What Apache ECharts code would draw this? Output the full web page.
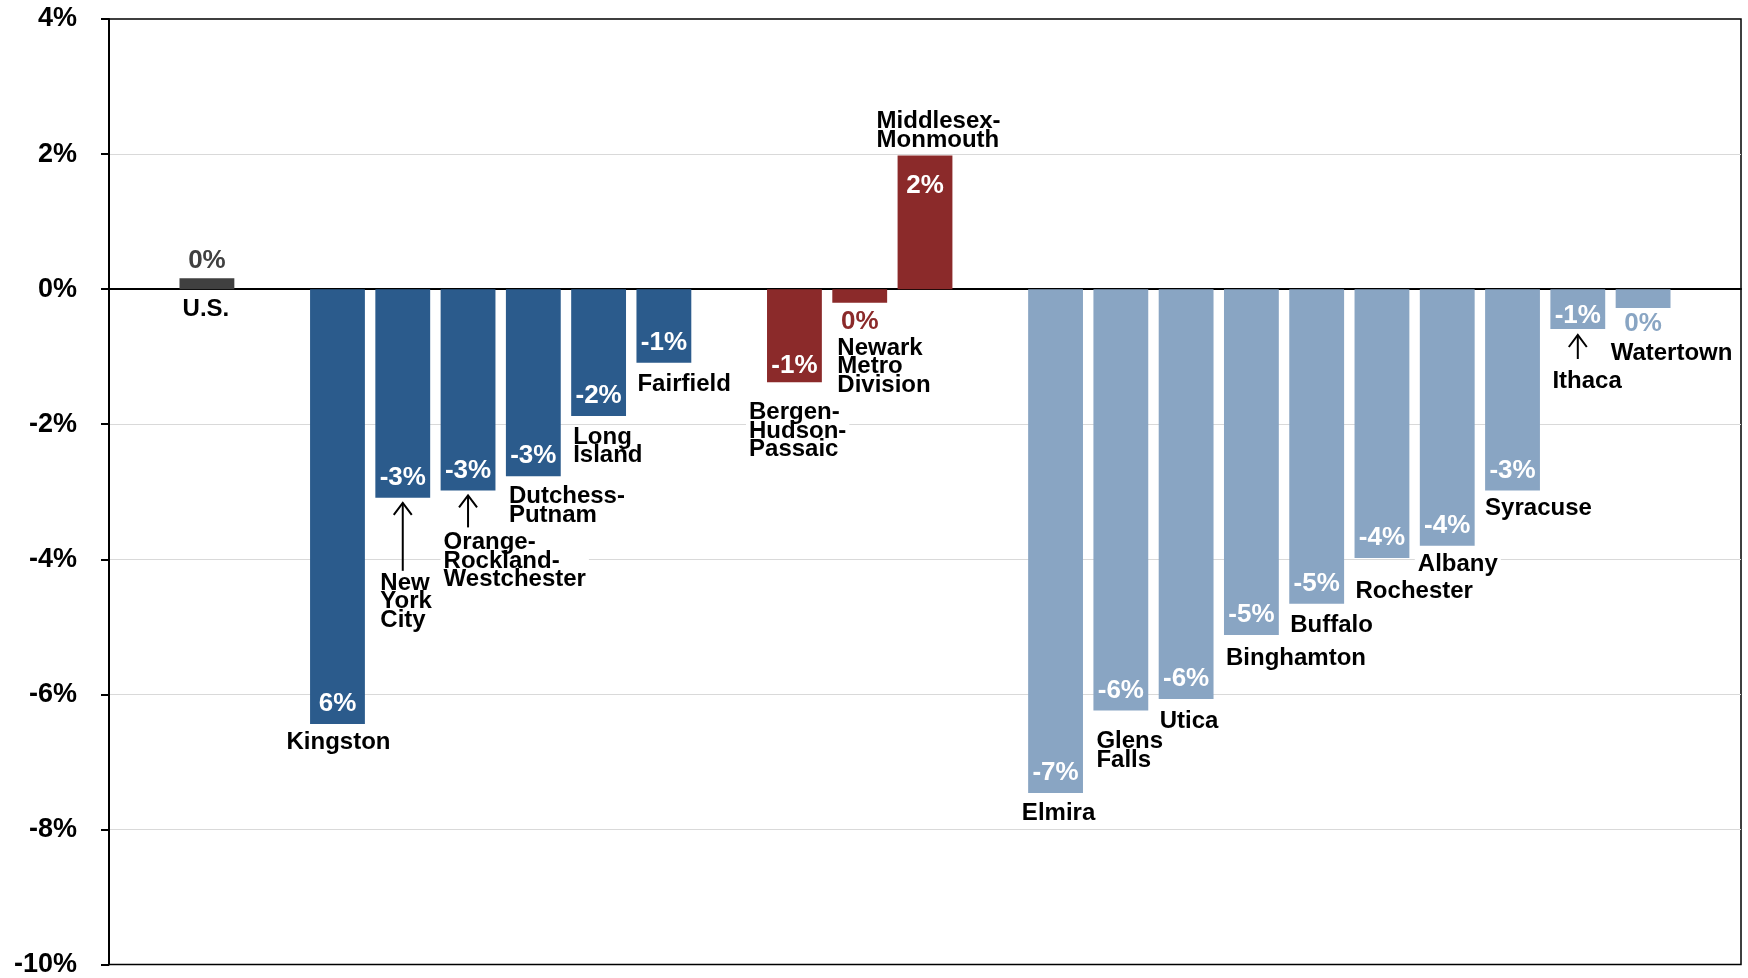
<!DOCTYPE html>
<html><head><meta charset="utf-8">
<script src="https://cdn.jsdelivr.net/npm/echarts@6/dist/echarts.min.js"></script>
<style>html,body{margin:0;padding:0;background:#fff}#c{width:1748px;height:978px}</style>
</head><body><div id="c"></div>
<script>
// ---- data ----
const categories = ['', 'U.S.', '', 'Kingston', 'New\nYork\nCity', 'Orange-\nRockland-\nWestchester', 'Dutchess-\nPutnam', 'Long\nIsland', 'Fairfield', '',
  'Bergen-\nHudson-\nPassaic', 'Newark\nMetro\nDivision', 'Middlesex-\nMonmouth', '',
  'Elmira', 'Glens\nFalls', 'Utica', 'Binghamton', 'Buffalo', 'Rochester', 'Albany', 'Syracuse', 'Ithaca', 'Watertown', ''];
const changes = [null, 0.16, null, -6.44, -3.09, -2.98, -2.77, -1.88, -1.09, null,
  -1.38, -0.20, 1.98, null,
  -7.46, -6.24, -6.07, -5.12, -4.66, -3.98, -3.80, -2.98, -0.59, -0.28, null];
const valueLabels = ['', '0%', '', '6%', '-3%', '-3%', '-3%', '-2%', '-1%', '',
  '-1%', '0%', '2%', '',
  '-7%', '-6%', '-6%', '-5%', '-5%', '-4%', '-4%', '-3%', '-1%', '0%', ''];
const regions = ['', 'us', '', 'ny', 'ny', 'ny', 'ny', 'ny', 'ny', '',
  'nj', 'nj', 'nj', '',
  'up', 'up', 'up', 'up', 'up', 'up', 'up', 'up', 'up', 'up', ''];
const yMin = -10, yMax = 4, yStep = 2;

// ---- styling / layout ----
const regionColors = { us: '#404040', ny: '#2B5B8C', nj: '#8B2A2A', up: '#89A5C3' };
const FONT = '"Liberation Sans", Arial, sans-serif';
// a: anchor ('l' bar left edge, 'c' bar center); dx,dy px offsets of the name text top from bar end
const layout = {
  1: { a: 'c', dx: -1, dy: 11, fromZero: true, v: { dy: -18, out: true } },
  3: { a: 'c', dx: 1, dy: 9.5 },
  4: { a: 'l', dx: 2, dy: 76, arrow: [5, 73] },
  5: { a: 'l', dx: 0, dy: 43, arrow: [5, 37] },
  6: { a: 'l', dx: 0, dy: 11 },
  7: { a: 'l', dx: -1, dy: 12 },
  8: { a: 'l', dx: -2, dy: 12 },
  10: { a: 'l', dx: -21, dy: 21, v: { dy: -17 } },
  11: { a: 'l', dx: 2, dy: 36, v: { dy: 19, out: true } },
  12: { a: 'l', dx: -24, dy: -6, above: true, v: { dy: 30 } },
  14: { a: 'c', dx: 3, dy: 11 },
  15: { a: 'l', dx: 0, dy: 22 },
  16: { a: 'l', dx: -2, dy: 13 },
  17: { a: 'l', dx: -1, dy: 14 },
  18: { a: 'l', dx: -2, dy: 12 },
  19: { a: 'l', dx: -2, dy: 24 },
  20: { a: 'l', dx: -5, dy: 9 },
  21: { a: 'l', dx: -3, dy: 9 },
  22: { a: 'l', dx: -1, dy: 43, arrow: [6, 30], v: { dy: -13 } },
  23: { a: 'l', dx: -8, dy: 36, v: { dy: 16, out: true } }
};
const GAP = 0.16;

const barData = changes.map((v, i) => v === null ? '-' : { value: v, itemStyle: { color: regionColors[regions[i]] } });
const labelData = [];
changes.forEach((v, i) => { if (v !== null) labelData.push([i, v]); });

const chart = echarts.init(document.getElementById('c'), null, { renderer: 'canvas' });
chart.setOption({
  animation: false,
  backgroundColor: '#fff',
  grid: { left: 109, right: 7, top: 19, bottom: 11, show: true, borderColor: '#000', borderWidth: 1.5, backgroundColor: 'transparent' },
  xAxis: {
    type: 'category', data: categories,
    axisLine: { onZero: true, lineStyle: { color: '#000', width: 2 } },
    axisTick: { show: false }, axisLabel: { show: false }, splitLine: { show: false }
  },
  yAxis: {
    type: 'value', min: yMin, max: yMax, interval: yStep,
    axisLine: { show: true, lineStyle: { color: '#000', width: 2 } },
    axisTick: { show: true, length: 8, lineStyle: { color: '#000', width: 2 } },
    axisLabel: { formatter: '{value}%', margin: 32, color: '#000', fontSize: 27, fontWeight: 'bold', fontFamily: FONT },
    splitLine: { showMinLine: false, showMaxLine: false, lineStyle: { color: '#d9d9d9', width: 1 } }
  },
  series: [
    { type: 'bar', data: barData, barCategoryGap: (GAP * 100) + '%', z: 2 },
    {
      type: 'custom', data: labelData, z: 5, clip: false,
      renderItem: function (params, api) {
        const i = api.value(0), v = api.value(1);
        const L = layout[i] || { a: 'c', dx: 0, dy: 8 };
        const end = api.coord([i, v]);
        const zero = api.coord([i, 0]);
        const slot = api.size([1, 0])[0];
        const bw = slot * (1 - GAP);
        const cx = end[0];
        const left = cx - bw / 2;
        const children = [];
        const vl = L.v || {};
        const vdy = vl.dy !== undefined ? vl.dy : -20;
        children.push({
          type: 'text',
          style: {
            text: valueLabels[i], x: cx, y: end[1] + vdy,
            align: 'center', verticalAlign: 'middle',
            fill: vl.out ? regionColors[regions[i]] : '#fff',
            font: 'bold 26px ' + FONT
          }
        });
        const ref = L.fromZero ? zero[1] : end[1];
        const nx = (L.a === 'l' ? left : cx) + L.dx;
        children.push({
          type: 'text',
          style: {
            text: categories[i], x: nx, y: ref + L.dy,
            align: L.a === 'l' ? 'left' : 'center',
            verticalAlign: L.above ? 'bottom' : 'top',
            lineHeight: 18.5,
            fill: '#000', font: 'bold 24px ' + FONT,
            backgroundColor: '#fff', padding: [0, 3, 0, 3]
          }
        });
        if (L.arrow) {
          const y1 = end[1] + L.arrow[0], y2 = end[1] + L.arrow[1];
          children.push({ type: 'line', shape: { x1: cx, y1: y1, x2: cx, y2: y2 }, style: { stroke: '#000', lineWidth: 2 } });
          children.push({ type: 'polyline', shape: { points: [[cx - 9, y1 + 12], [cx, y1], [cx + 9, y1 + 12]] }, style: { stroke: '#000', lineWidth: 2, fill: null } });
        }
        return { type: 'group', children: children };
      }
    }
  ]
});
</script></body></html>
